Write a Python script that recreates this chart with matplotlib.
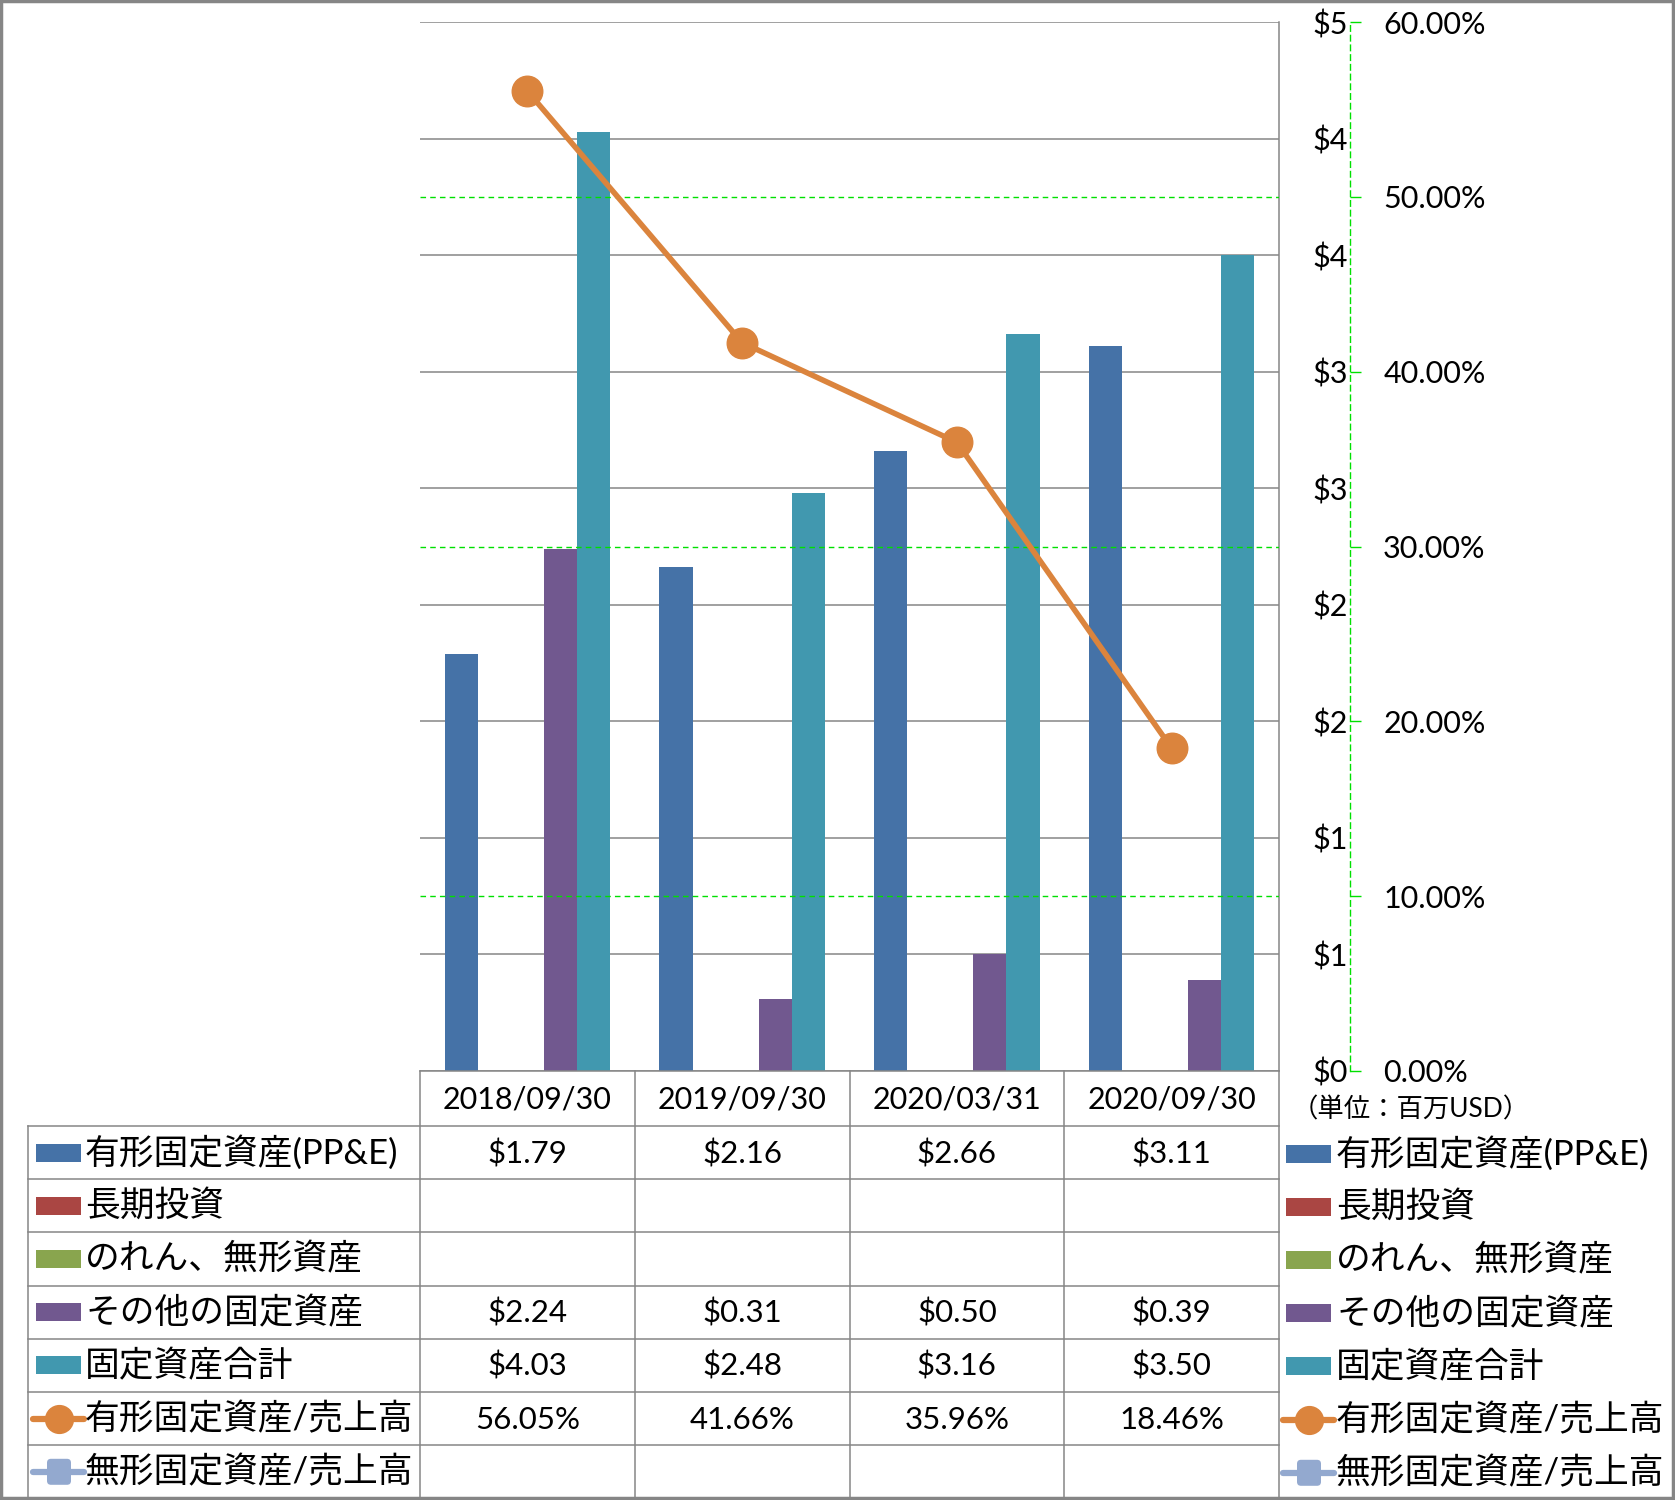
import numpy as np
import matplotlib
matplotlib.use('Agg')
import matplotlib.pyplot as plt
from matplotlib.patches import Rectangle, FancyBboxPatch

plt.rcParams['font.family'] = ['Lato', 'Noto Sans CJK JP', 'DejaVu Sans']

# data
dates = ['2018/09/30', '2019/09/30', '2020/03/31', '2020/09/30']
series_names = ['有形固定資産(PP&E)', '長期投資', 'のれん、無形資産', 'その他の固定資産',
                '固定資産合計', '有形固定資産/売上高', '無形固定資産/売上高']
ppe = [1.79, 2.16, 2.66, 3.11]
long_inv = [None, None, None, None]
goodwill = [None, None, None, None]
other_fixed = [2.24, 0.31, 0.50, 0.39]
total_fixed = [4.03, 2.48, 3.16, 3.50]
ppe_ratio = [56.05, 41.66, 35.96, 18.46]
intang_ratio = [None, None, None, None]
left_ticks = ['$0', '$1', '$1', '$2', '$2', '$3', '$3', '$4', '$4', '$5']

colors = ['#4572A7', '#AA4643', '#89A54E', '#71588F', '#4198AF', '#DB843D', '#93A9CF']
kinds = ['bar', 'bar', 'bar', 'bar', 'bar', 'circle', 'square']
bar_series = [ppe, long_inv, goodwill, other_fixed, total_fixed]
line_series = [ppe_ratio, intang_ratio]
grid_gray = '#868686'

W, H = 1675, 1500
fig = plt.figure(figsize=(W / 100, H / 100), dpi=100)

# plot area in pixels
PL, PR, PT, PB = 420, 1279, 22, 1071
ax = fig.add_axes([PL / W, 1 - PB / H, (PR - PL) / W, (PB - PT) / H])
ax.set_xlim(-0.5, 3.5)
ax.set_ylim(0, 4.5)
x = np.arange(len(dates))
bw = 0.154
for k, vals in enumerate(bar_series):
    if all(v is None for v in vals):
        continue
    ax.bar(x + (k - 2) * bw, vals, width=bw, color=colors[k], zorder=2)
ax.set_xticks([])
ax.grid(axis='y', color=grid_gray, lw=1.1, zorder=0)
ax.set_axisbelow(True)
for s in ['top', 'left']:
    ax.spines[s].set_visible(False)
for s in ['bottom', 'right']:
    ax.spines[s].set_color(grid_gray)
    ax.spines[s].set_linewidth(1.1)

ax2 = ax.twinx()
ax.set_yticks(np.arange(0, 4.51, 0.5))
ax.set_yticklabels(left_ticks)
ax.yaxis.tick_right()
ax.tick_params(axis='y', length=0, pad=24, labelsize=22)

ax2.set_ylim(0, 60)
ax2.set_yticks(np.arange(0, 61, 10))
ax2.set_yticklabels(['%.2f%%' % v for v in np.arange(0, 61, 10)])
ax2.spines['right'].set_position(('outward', 51))
ax2.spines['right'].set_color('#00E000')
ax2.spines['right'].set_linestyle((0, (4, 3)))
ax2.spines['right'].set_linewidth(1)
for s in ['top', 'left', 'bottom']:
    ax2.spines[s].set_visible(False)
ax2.tick_params(axis='y', length=8, color='#00E000', width=1, pad=16, labelsize=22)
for g in [10, 30, 50]:
    ax2.axhline(g, color='#00E000', lw=1, ls=(0, (4, 3)), zorder=1)
ax2.plot(x, ppe_ratio, color=colors[5], lw=4, marker='o', ms=22, zorder=5)

# table + legends overlay in pixel coords
ov = fig.add_axes([0, 0, 1, 1], facecolor='none')
ov.set_xlim(0, W)
ov.set_ylim(H, 0)
ov.axis('off')

col_w = (PR - PL) / len(dates)
col_edges = [PL + col_w * i for i in range(len(dates) + 1)]
row_top = 1126
row_h = 53.2
n_rows = len(series_names)
tbl_left = 28
tbl_bottom = row_top + row_h * n_rows

for xe in col_edges:
    ov.plot([xe, xe], [PB, tbl_bottom], color=grid_gray, lw=1.1)
ov.plot([tbl_left, tbl_left], [row_top, tbl_bottom], color=grid_gray, lw=1.1)
for r in range(n_rows + 1):
    yy = row_top + r * row_h
    ov.plot([tbl_left, PR], [yy, yy], color=grid_gray, lw=1.1)

for i, d in enumerate(dates):
    ov.text(col_edges[i] + col_w / 2, (PB + row_top) / 2 + 1, d, fontsize=22,
            ha='center', va='center')


def draw_key(x0, yc, color, kind):
    if kind == 'bar':
        ov.add_patch(Rectangle((x0, yc - 9), 45, 18, color=color, lw=0))
    else:
        ov.plot([x0 - 3, x0 + 48], [yc, yc], color=color, lw=4.5,
                solid_capstyle='round')
        if kind == 'circle':
            ov.plot([x0 + 22.5], [yc], marker='o', ms=20, color=color)
        else:
            ov.add_patch(FancyBboxPatch((x0 + 11, yc - 13), 24, 26,
                                        boxstyle='round,pad=0,rounding_size=4',
                                        color=color, lw=0))


all_vals = bar_series + line_series
for r, name in enumerate(series_names):
    yc = row_top + (r + 0.5) * row_h
    draw_key(36, yc, colors[r], kinds[r])
    ov.text(85, yc, name, fontsize=25, ha='left', va='center')
    vals = all_vals[r]
    for i, v in enumerate(vals):
        if v is None:
            continue
        txt = '%.2f%%' % v if r >= 5 else '$%.2f' % v
        ov.text(col_edges[i] + col_w / 2, yc + 1, txt, fontsize=22.5,
                ha='center', va='center')
    # right legend
    draw_key(1286, yc + 1, colors[r], kinds[r])
    ov.text(1336, yc + 1, name, fontsize=25, ha='left', va='center')

ov.text(1292, 1110, '（単位：百万USD）', fontsize=19, ha='left', va='center')

# outer frame
ov.add_patch(Rectangle((1, 1), W - 3, H - 3, fill=False, ec=grid_gray, lw=2.5))

fig.savefig('out.png', dpi=100, facecolor='white')
